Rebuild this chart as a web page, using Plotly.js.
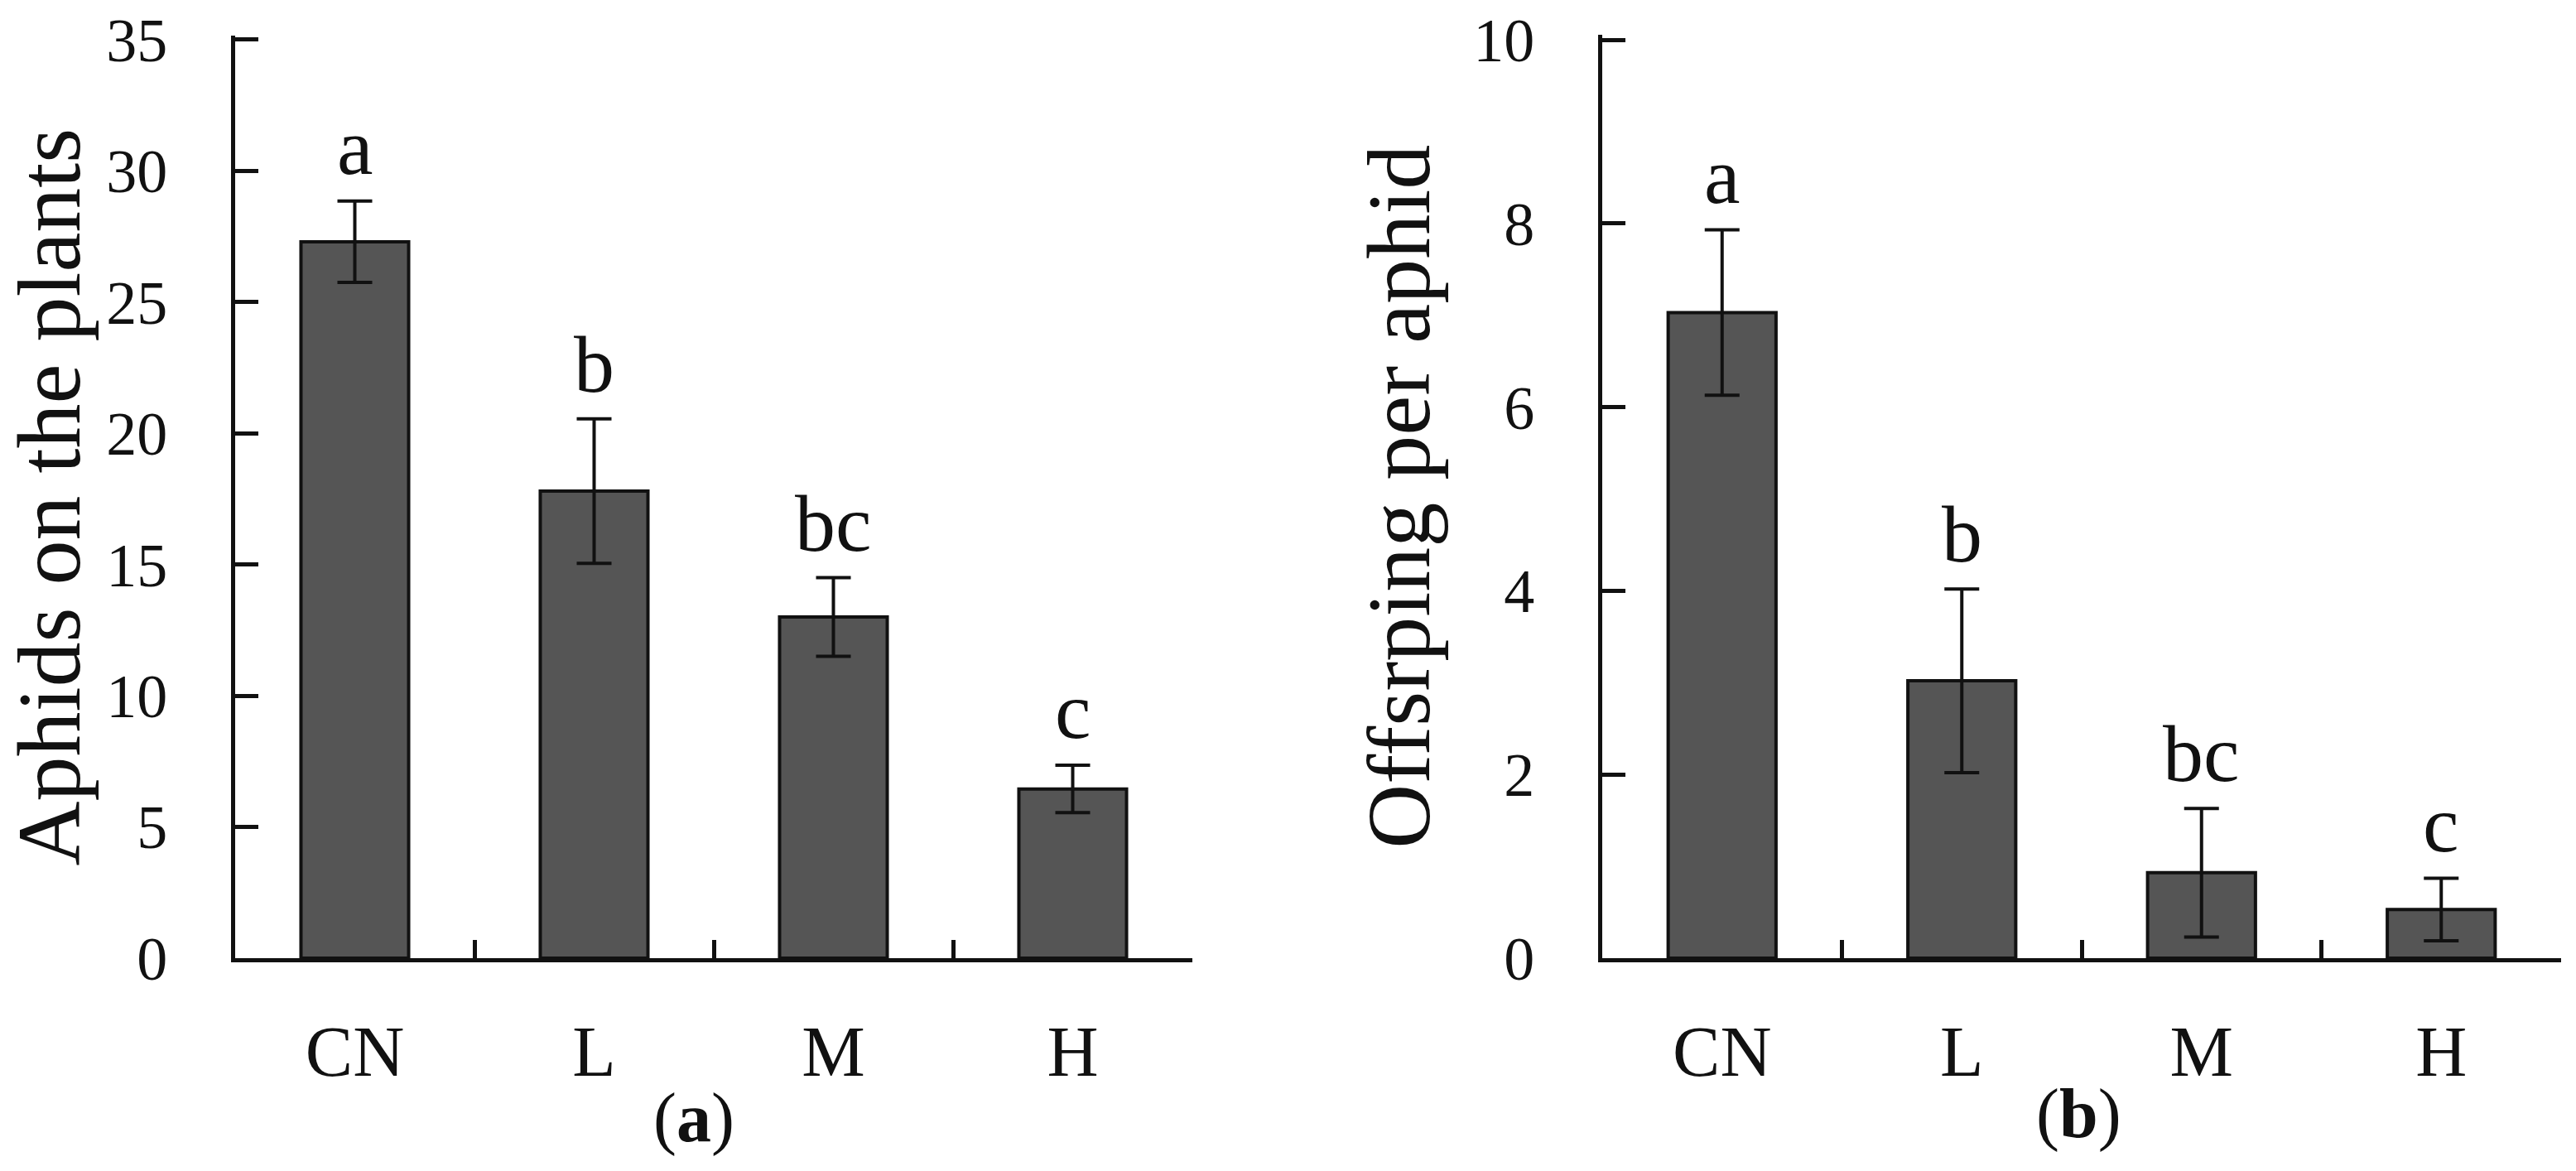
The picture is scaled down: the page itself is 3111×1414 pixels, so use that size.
<!DOCTYPE html>
<html>
<head>
<meta charset="utf-8">
<script src="https://cdn.plot.ly/plotly-3.0.1.min.js"></script>
<style>html,body{margin:0;padding:0;background:#fff;}#chart{width:3111px;height:1414px;}</style>
</head>
<body>
<div id="chart"></div>
<script>
// Data
var categories = ["CN", "L", "M", "H"];
var aphidsMean = [27.3, 17.8, 13.0, 6.45];
var aphidsErr = [1.55, 2.75, 1.5, 0.9];
var aphidsLetters = ["a", "b", "bc", "c"];
var offspringMean = [7.03, 3.02, 0.93, 0.53];
var offspringErr = [0.9, 1.0, 0.7, 0.34];
var offspringLetters = ["a", "b", "bc", "c"];
var aphidsTicks = [0, 5, 10, 15, 20, 25, 30, 35];
var offspringTicks = [0, 2, 4, 6, 8, 10];

var FONT = "'Palatino Linotype', 'Book Antiqua', Palatino, 'Liberation Serif', serif";
var barFill = "#555555";

function barTrace(y, err, xa, ya) {
  return {
    type: "bar", x: categories, y: y, xaxis: xa, yaxis: ya,
    marker: {color: barFill, line: {color: "#111111", width: 4}},
    error_y: {type: "data", array: err, visible: true, color: "#111111", thickness: 4, width: 21},
    hoverinfo: "none", showlegend: false
  };
}

var data = [
  barTrace(aphidsMean, aphidsErr, "x", "y"),
  barTrace(offspringMean, offspringErr, "x2", "y2")
];

var annotations = [];
categories.forEach(function (c, i) {
  annotations.push({x: c, y: aphidsMean[i] + aphidsErr[i], xref: "x", yref: "y",
    text: aphidsLetters[i], showarrow: false, yanchor: "bottom", yshift: 10,
    font: {family: FONT, size: 98, color: "#111"}});
  annotations.push({x: c, y: offspringMean[i] + offspringErr[i], xref: "x2", yref: "y2",
    text: offspringLetters[i], showarrow: false, yanchor: "bottom", yshift: 10,
    font: {family: FONT, size: 98, color: "#111"}});
});
annotations.push({x: 838 / 3111, y: 1 - 1350 / 1414, xref: "paper", yref: "paper",
  xanchor: "center", yanchor: "middle",
  text: "(<b>a</b>)", showarrow: false, font: {family: FONT, size: 84, color: "#111"}});
annotations.push({x: 2510 / 3111, y: 1 - 1345 / 1414, xref: "paper", yref: "paper",
  xanchor: "center", yanchor: "middle",
  text: "(<b>b</b>)", showarrow: false, font: {family: FONT, size: 84, color: "#111"}});

function xAxis(domain, anchor) {
  return {
    domain: domain, anchor: anchor, type: "category",
    showline: true, linecolor: "#111", linewidth: 5,
    ticks: "inside", tickson: "boundaries", ticklen: 22, tickwidth: 5, tickcolor: "#111",
    showgrid: false, zeroline: false, ticklabelstandoff: 34,
    tickfont: {family: FONT, size: 86, color: "#111"}
  };
}
function yAxis(range, ticks, title, anchor, top) {
  return {
    domain: [1 - 1157 / 1414, 1 - top / 1414], anchor: anchor, range: range,
    tickmode: "array", tickvals: ticks, ticktext: ticks.map(String),
    showline: true, linecolor: "#111", linewidth: 5,
    ticks: "inside", ticklen: 28, tickwidth: 5, tickcolor: "#111",
    showgrid: false, zeroline: false, ticklabelstandoff: 62,
    ticklabeloverflow: "allow",
    tickfont: {family: FONT, size: 74, color: "#111"},
    title: {text: title, standoff: 18, font: {family: FONT, size: 108, color: "#111"}}
  };
}

// top tick sits ~48px below the top edge so its label is not clipped
var yTopPx = 48;
var aPxPerUnit = (1157 - yTopPx) / 35;
var bPxPerUnit = (1157 - yTopPx) / 10;

var layout = {
  width: 3111, height: 1414,
  margin: {l: 0, r: 0, t: 0, b: 0},
  paper_bgcolor: "#ffffff", plot_bgcolor: "#ffffff",
  bargap: 0.55,
  xaxis: xAxis([284 / 3111, 1440 / 3111], "y"),
  yaxis: yAxis([0, 35.15], aphidsTicks, "Aphids on the plants", "x", yTopPx - 0.15 * aPxPerUnit),
  xaxis2: xAxis([1935 / 3111, 3093 / 3111], "y2"),
  yaxis2: yAxis([0, 10.05], offspringTicks, "Offsrping per aphid", "x2", yTopPx - 0.05 * bPxPerUnit),
  annotations: annotations
};

Plotly.newPlot("chart", data, layout, {staticPlot: true, displayModeBar: false});
</script>
</body>
</html>
